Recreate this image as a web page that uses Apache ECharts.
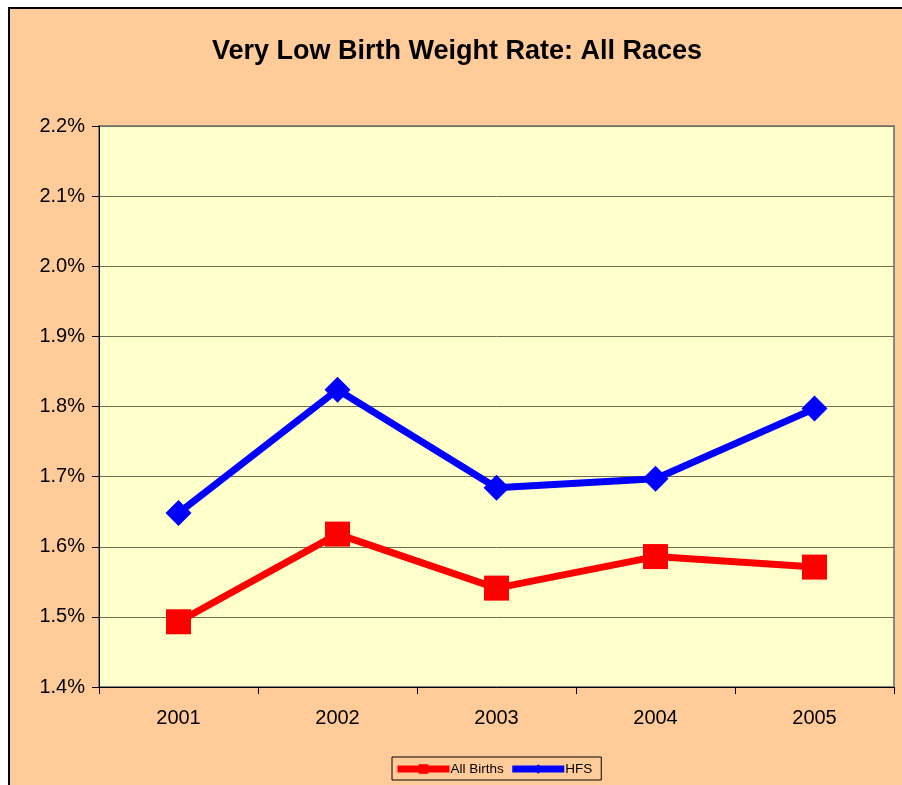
<!DOCTYPE html>
<html><head><meta charset="utf-8">
<script src="https://cdn.jsdelivr.net/npm/echarts@6/dist/echarts.min.js"></script>
<style>
html,body{margin:0;padding:0;background:#fff;width:902px;height:785px;overflow:hidden;}
#c{position:absolute;left:8px;top:7px;width:894px;height:778px;border-left:2px solid #000;border-top:2px solid #000;background:#ffcc99;}
</style></head><body>
<div id="c"></div>
<script>
const categories = ['2001','2002','2003','2004','2005'];
const allBirths = [1.493, 1.618, 1.541, 1.586, 1.571];
const hfs = [1.648, 1.824, 1.684, 1.697, 1.797];
const yTicks = {min: 1.4, max: 2.2, interval: 0.1};

const chart = echarts.init(document.getElementById('c'));
chart.setOption({
  backgroundColor: '#ffcc99',
  animation: false,
  title: {
    text: 'Very Low Birth Weight Rate: All Races',
    left: 'center', top: 24, padding: [5, 5, 5, 15],
    textStyle: {fontFamily: 'Liberation Sans, Arial', fontSize: 27, fontWeight: 'bold', color: '#000'}
  },
  grid: {
    left: 89, top: 117, width: 795, height: 561,
    show: true, backgroundColor: '#ffffcc', borderColor: '#868686', borderWidth: 2
  },
  legend: {
    left: 382, top: 748,
    borderColor: '#000', borderWidth: 1,
    padding: [5, 9, 4, 2], itemGap: 5,
    itemWidth: 52, itemHeight: 12,
    lineStyle: {width: 7},
    textStyle: {fontFamily: 'Liberation Sans, Arial', fontSize: 13.5, color: '#000', padding: [0,0,0,-4]},
    data: ['All Births', 'HFS']
  },
  xAxis: {
    type: 'category', data: categories, boundaryGap: true,
    axisLine: {show: true, lineStyle: {color: '#000', width: 1}},
    axisTick: {show: true, length: 7, lineStyle: {color: '#000'}},
    axisLabel: {fontFamily: 'Liberation Sans, Arial', fontSize: 20, color: '#000', margin: 21}
  },
  yAxis: {
    type: 'value', min: yTicks.min, max: yTicks.max, interval: yTicks.interval,
    axisLine: {show: true, lineStyle: {color: '#000', width: 1}},
    axisTick: {show: true, length: 7, lineStyle: {color: '#000'}},
    splitLine: {show: true, lineStyle: {color: '#6e6e50', width: 1}},
    axisLabel: {fontFamily: 'Liberation Sans, Arial', fontSize: 20, color: '#000', margin: 14,
      formatter: v => v.toFixed(1) + '%'}
  },
  series: [
    {
      name: 'All Births', type: 'line', data: allBirths,
      symbol: 'rect', symbolSize: 25,
      lineStyle: {color: '#ff0000', width: 7},
      itemStyle: {color: '#ff0000'}
    },
    {
      name: 'HFS', type: 'line', data: hfs,
      symbol: 'diamond', symbolSize: [26, 26],
      lineStyle: {color: '#0000ff', width: 7},
      itemStyle: {color: '#0000ff'}
    }
  ]
});
</script>
</body></html>
